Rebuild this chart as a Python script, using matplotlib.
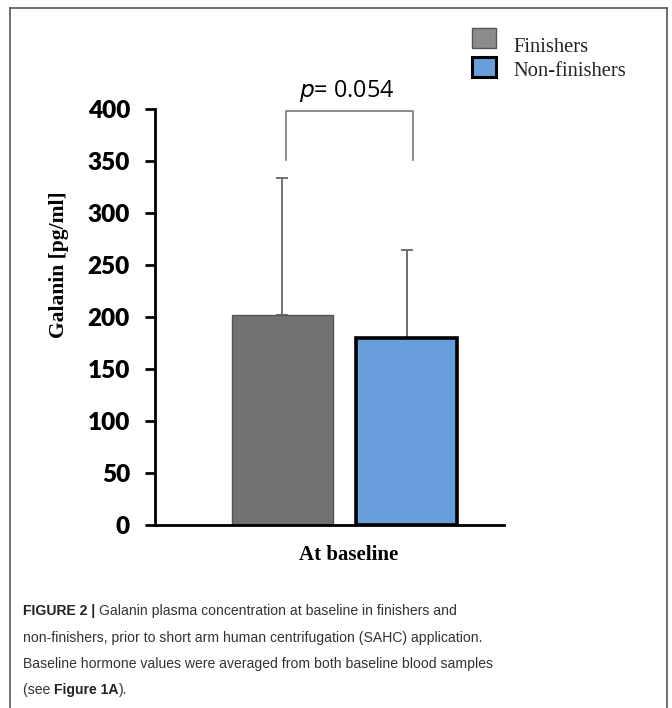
import matplotlib
matplotlib.use("Agg")
import matplotlib.pyplot as plt
from matplotlib.lines import Line2D
from matplotlib.patches import Rectangle

groups = ["Finishers", "Non-finishers"]
means = [202, 180]
sd_upper = [132, 84]
yticks = [0, 50, 100, 150, 200, 250, 300, 350, 400]
p_value = "= 0.054"
xlabel = "At baseline"
ylabel = "Galanin [pg/ml]"

W, H = 672, 708
fig = plt.figure(figsize=(W / 100, H / 100), dpi=100)

def fx(px):
    return px / W

def fy(py):
    return 1 - py / H

cap_font = "Liberation Sans"

# outer frame (top, left, right)
fig.add_artist(Line2D([fx(10), fx(10)], [0, fy(8)], color="#555555", lw=1.2))
fig.add_artist(Line2D([fx(667), fx(667)], [0, fy(8)], color="#555555", lw=1.2))
fig.add_artist(Line2D([fx(10), fx(667)], [fy(8), fy(8)], color="#555555", lw=1.2))

ax = fig.add_axes([fx(155), fy(525), fx(504 - 155), (525 - 109) / H])
xpos = [0, 1]
colors = ["#717171", "#669fdc"]
edges = ["#555555", "black"]
lws = [1.0, 2.6]
ax.bar(xpos, means, width=0.815, color=colors, edgecolor=edges, linewidth=lws, zorder=2)
for x, m, e in zip(xpos, means, sd_upper):
    ax.errorbar([x], [m], yerr=[[0], [e]], fmt="none", ecolor="#707070",
                elinewidth=1.4, capsize=4.5, capthick=1.4, zorder=1)

ax.set_xlim(-1.028, 1.786)
ax.set_ylim(0, 400)
ax.set_yticks(yticks)
ax.set_xticks([])
for s in ["top", "right"]:
    ax.spines[s].set_visible(False)
ax.spines["left"].set_linewidth(2)
ax.spines["bottom"].set_linewidth(2)
ax.tick_params(axis="y", direction="out", length=7, width=2, pad=11)
for lab in ax.get_yticklabels():
    lab.set_fontfamily("Lato")
    lab.set_fontweight("heavy")
    lab.set_fontsize(17.5)

# significance bracket
bx0, bx1 = xpos[0] + 0.03, xpos[1] + 0.05
ax.plot([bx0, bx0, bx1, bx1], [351, 398, 398, 351], color="#777777", lw=1.2, clip_on=False)
ax.text((bx0 + bx1) / 2 - 0.02, 405, r"$\it{p}$" + p_value, ha="center", va="bottom",
        fontsize=16.8, fontfamily="Open Sans", clip_on=False)

fig.text(fx(59), fy(265), ylabel, rotation=90, ha="center", va="center",
         fontfamily="Liberation Serif", fontweight="bold", fontsize=15.5)
fig.text(fx(349), fy(555), xlabel, ha="center", va="center",
         fontfamily="Liberation Serif", fontweight="bold", fontsize=15)

# legend
leg_fc = ["#8c8c8c", "#669fdc"]
leg_ec = ["#555555", "black"]
leg_lw = [1.0, 2.2]
leg_y = [28, 57]
for c, ec, lw, y0, name, ty in zip(leg_fc, leg_ec, leg_lw, leg_y, groups, [47, 72]):
    fig.add_artist(Rectangle((fx(472), fy(y0 + 20)), fx(24), 20 / H, facecolor=c,
                             edgecolor=ec, linewidth=lw, transform=fig.transFigure))
    fig.text(fx(513), fy(ty), name, ha="left", va="center",
             fontfamily="Liberation Serif", fontsize=14.8, color="#222222")

# caption
cap_lines = [
    ("FIGURE 2 | ", "Galanin plasma concentration at baseline in finishers and", None),
    (None, "non-finishers, prior to short arm human centrifugation (SAHC) application.", None),
    (None, "Baseline hormone values were averaged from both baseline blood samples", None),
    (None, "(see ", "Figure 1A"),
]
cap_y = [611, 638, 664, 690]
fs = 10.1
fig.canvas.draw()
r = fig.canvas.get_renderer()
for (b, t, b2), y in zip(cap_lines, cap_y):
    x = fx(23)
    if b:
        tb = fig.text(x, fy(y), b, ha="left", va="center", fontfamily=cap_font,
                      fontweight="bold", fontsize=fs, color="#222222")
        x += tb.get_window_extent(r).width / W
    tt = fig.text(x, fy(y), t, ha="left", va="center", fontfamily=cap_font,
                  fontsize=fs, color="#333333")
    x += tt.get_window_extent(r).width / W
    if b2:
        tb2 = fig.text(x, fy(y), b2, ha="left", va="center", fontfamily=cap_font,
                       fontweight="bold", fontsize=fs, color="#222222")
        x += tb2.get_window_extent(r).width / W
        fig.text(x, fy(y), ").", ha="left", va="center", fontfamily=cap_font,
                 fontsize=fs, color="#333333")

fig.savefig("out.png", dpi=100)
